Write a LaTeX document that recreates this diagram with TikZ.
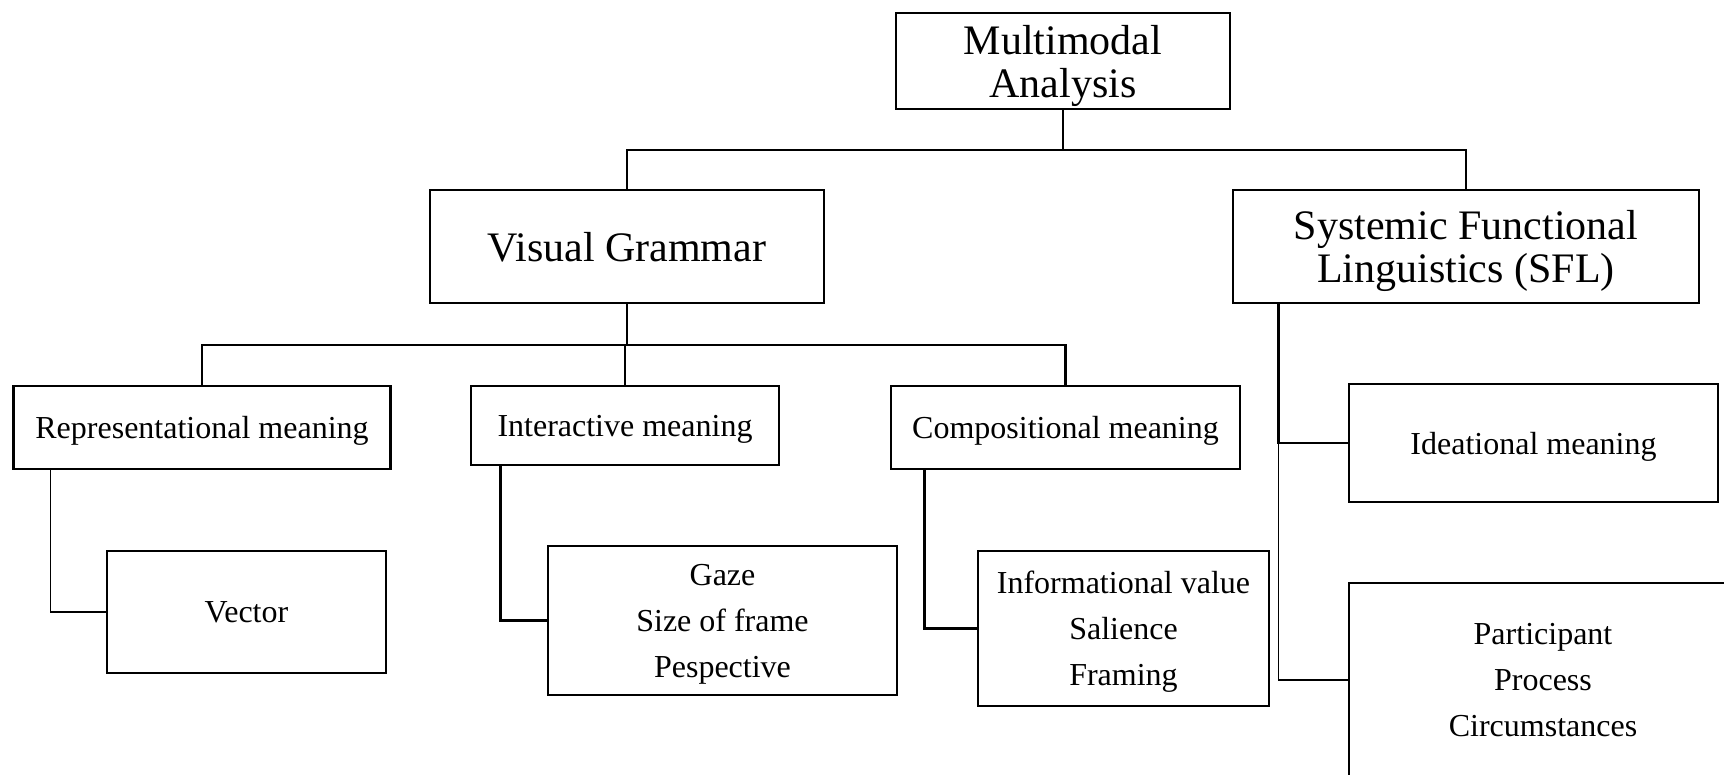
\documentclass[tikz,border=0pt]{standalone}
\usepackage{fontspec}
\setmainfont{Liberation Serif}
\usetikzlibrary{calc}

\begin{document}
\begin{tikzpicture}[x=0.5pt,y=-0.5pt,
  Box/.style={draw,line width=1.3pt,inner sep=0pt,align=center,text depth=0pt,
    font=\fontsize{16}{23}\selectfont},
  BigBox/.style={Box,font=\fontsize{21}{21.5}\selectfont},
  Thick/.style={line width=1.3pt},
  Thin/.style={line width=0.55pt}]
\useasboundingbox (0,0) rectangle (1724,775);
\clip (0,0) rectangle (1724,775);

% top levels
\node[BigBox,minimum width=167pt,minimum height=48pt] (MA) at (1063,61) {Multimodal\\Analysis};
\node[BigBox,minimum width=197pt,minimum height=56.5pt] (VG) at (627,246.5) {Visual Grammar};
\node[BigBox,minimum width=233pt,minimum height=56.5pt] (SFL) at (1466,246.5) {Systemic Functional\\Linguistics (SFL)};

% meanings
\node[Box,minimum width=188.5pt,minimum height=41.5pt] (REP) at (202,427.5) {Representational meaning};
\node[Box,minimum width=154pt,minimum height=39.5pt] (INT) at (625,425.5) {Interactive meaning};
\node[Box,minimum width=174.5pt,minimum height=41.5pt] (COMP) at (1065.5,427.5) {Compositional meaning};
\node[Box,minimum width=184.5pt,minimum height=59pt] (IDEA) at (1533.5,443) {Ideational meaning};

% leaves
\node[Box,minimum width=139.5pt,minimum height=61pt] (VEC) at (246.5,612) {Vector};
\node[Box,minimum width=174.5pt,minimum height=74.5pt] (GAZE) at (722.5,620.5) {Gaze\\Size of frame\\Pespective};
\node[Box,minimum width=145.5pt,minimum height=77.5pt] (INFO) at (1123.5,628.5) {Informational value\\Salience\\Framing};
\node[Box,minimum width=194pt,minimum height=97pt,text depth=] (PART) at (1543,680) {Participant\\Process\\Circumstances};

\coordinate (J1) at (1063,150);
\coordinate (J2) at (627,345);
\coordinate (S1) at ([xshift=23.5pt]SFL.south west);

\draw[Thick] (MA.south) -- (J1);
\draw[Thick] (VG.north) |- (J1) -| (SFL.north);
\draw[Thick] (VG.south) -- (J2);
\draw[Thick] (REP.north) |- (J2) -| (COMP.north);
\draw[Thick] (INT.north) -- (INT.north |- J2);

\draw[Thin] ([xshift=19pt]REP.south west) |- (VEC.west);
\draw[Thick] ([xshift=15.5pt]INT.south west) |- (GAZE.west);
\draw[Thick] ([xshift=17.5pt]COMP.south west) |- (INFO.west);
\draw[Thick] (S1) |- (IDEA.west);
\draw[Thin] (S1 |- IDEA.west) |- (PART.west);

\end{tikzpicture}
\end{document}
